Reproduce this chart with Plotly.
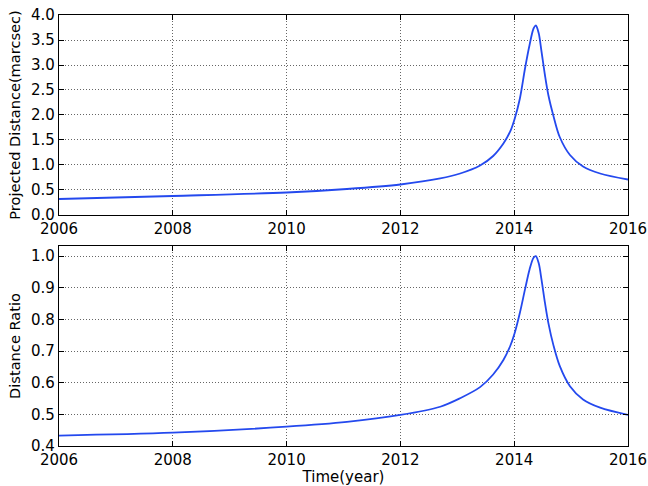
import plotly.graph_objects as go
from plotly.subplots import make_subplots

# time points (year)
time_year = [2006, 2008, 2010, 2011.06, 2012, 2012.70, 2013.05, 2013.40, 2013.63,
             2013.81, 2013.93, 2014.01, 2014.10, 2014.19, 2014.27, 2014.34, 2014.38,
             2014.43, 2014.48, 2014.54, 2014.60, 2014.69, 2014.80, 2014.98, 2015.21,
             2015.51, 2016]

projected_distance = [0.32, 0.38, 0.45, 0.52, 0.61, 0.73, 0.83, 0.99, 1.18,
                      1.43, 1.67, 1.93, 2.33, 2.93, 3.40, 3.73, 3.79,
                      3.64, 3.27, 2.80, 2.40, 1.98, 1.56, 1.20, 0.97,
                      0.83, 0.71]

distance_ratio = [0.433, 0.442, 0.461, 0.476, 0.498, 0.524, 0.551, 0.586, 0.626,
                  0.672, 0.716, 0.758, 0.821, 0.895, 0.958, 0.995, 1.0,
                  0.978, 0.926, 0.853, 0.789, 0.718, 0.653, 0.589, 0.547,
                  0.521, 0.498]

x_ticks = [2006, 2008, 2010, 2012, 2014, 2016]

LINE_COLOR = "#2449ee"
FONT = "DejaVu Sans"

fig = make_subplots(rows=2, cols=1, vertical_spacing=0.072)

fig.add_trace(go.Scatter(
    x=time_year, y=projected_distance, mode="lines",
    line={"color": LINE_COLOR, "width": 1.8, "shape": "spline", "smoothing": 0.9},
    showlegend=False,
), row=1, col=1)

fig.add_trace(go.Scatter(
    x=time_year, y=distance_ratio, mode="lines",
    line={"color": LINE_COLOR, "width": 1.8, "shape": "spline", "smoothing": 0.9},
    showlegend=False,
), row=2, col=1)

axis_style = dict(
    showline=True, linecolor="black", linewidth=1.2, mirror="allticks",
    ticks="inside", ticklen=5, tickcolor="black",
    showgrid=True, gridcolor="rgba(0,0,0,0.6)", griddash="1px,2px", gridwidth=1,
    zeroline=False, automargin=False, ticklabeloverflow="allow",
    tickfont={"family": FONT, "size": 15, "color": "black"},
)

for r in (1, 2):
    fig.update_xaxes(range=[2006, 2016], tickvals=x_ticks, row=r, col=1, **axis_style)

fig.update_yaxes(range=[0, 4], dtick=0.5, tickformat=".1f", row=1, col=1,
                 title={"text": "Projected Distance(marcsec)", "standoff": 6,
                        "font": {"family": FONT, "size": 14.6, "color": "black"}},
                 **axis_style)
fig.update_yaxes(range=[0.4, 1.032], tickvals=[0.4, 0.5, 0.6, 0.7, 0.8, 0.9, 1.0],
                 tickformat=".1f", row=2, col=1,
                 title={"text": "Distance Ratio", "standoff": 6,
                        "font": {"family": FONT, "size": 14.6, "color": "black"}},
                 **axis_style)
fig.update_xaxes(row=2, col=1,
                 title={"text": "Time(year)", "standoff": 2,
                        "font": {"family": FONT, "size": 15, "color": "black"}})

fig.update_layout(
    width=648, height=486,
    margin={"l": 59, "r": 20, "t": 15, "b": 40},
    paper_bgcolor="white", plot_bgcolor="white",
    font={"family": FONT, "color": "black"},
)

# drop the page's default body margin so the figure fills the window exactly
fig.write_html("out.html", config={"displayModeBar": False},
               post_script="document.body.style.margin = '0';")
